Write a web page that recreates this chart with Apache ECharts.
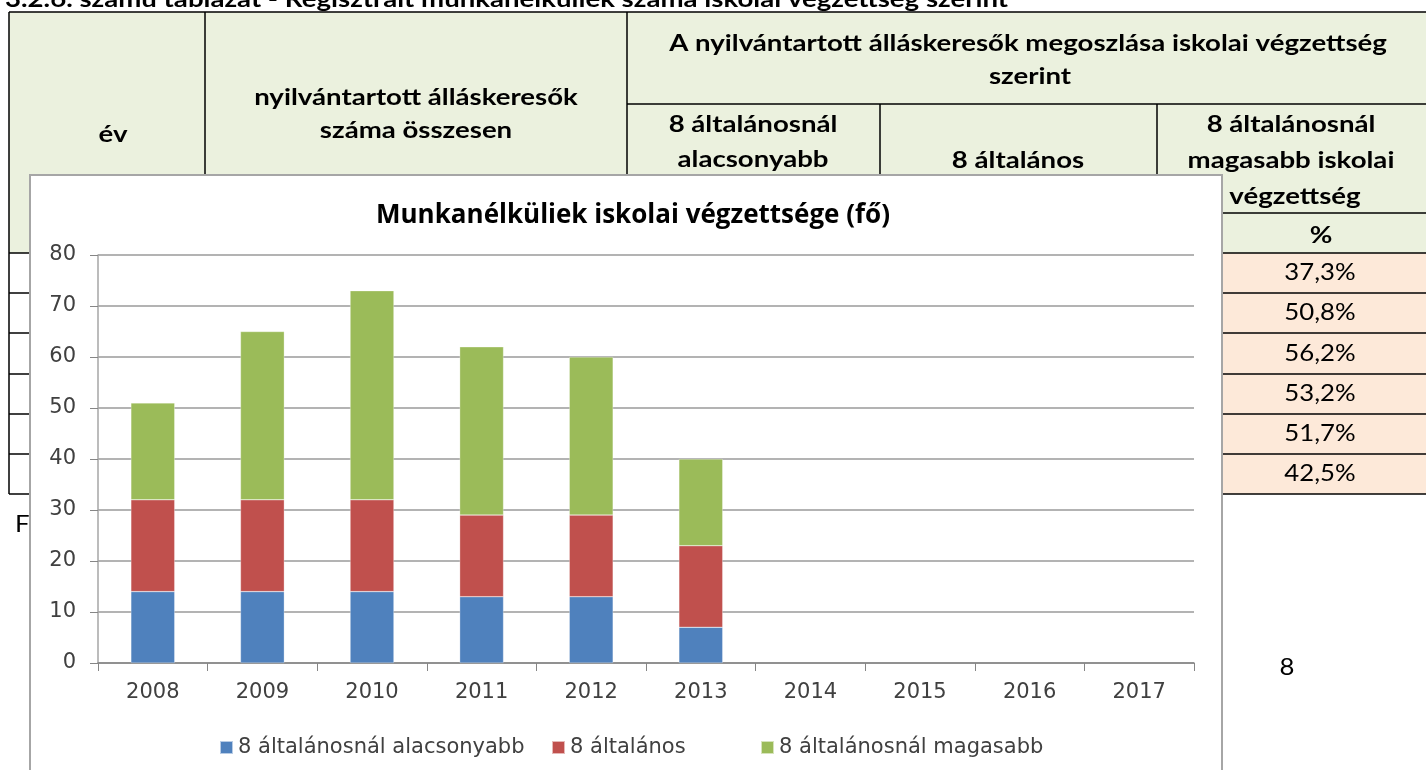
<!DOCTYPE html>
<html>
<head>
<meta charset="utf-8">
<script src="https://cdn.jsdelivr.net/npm/echarts@6/dist/echarts.min.js"></script>
<style>
  html, body { margin: 0; padding: 0; background: #fff; }
  #chart { width: 1426px; height: 770px; }
</style>
</head>
<body>
<div id="chart"></div>
<script>
// adatok
const years = ['2008', '2009', '2010', '2011', '2012', '2013', '2014', '2015', '2016', '2017'];
const alacsonyabb = [14, 14, 14, 13, 13, 7];
const altalanos = [18, 18, 18, 16, 16, 16];
const magasabb = [19, 33, 41, 33, 31, 17];
const seriesNames = ['8 általánosnál alacsonyabb', '8 általános', '8 általánosnál magasabb'];
const seriesColors = ['#4F81BD', '#C0504D', '#9BBB59'];
const pctValues = ['37,3%', '50,8%', '56,2%', '53,2%', '51,7%', '42,5%'];
const yTicks = [0, 10, 20, 30, 40, 50, 60, 70, 80];

const TFONT = 'Lato, "Open Sans", sans-serif';
const CFONT = '"DejaVu Sans", Verdana, sans-serif';

// háttér táblázat
const hdrBg = '#EBF1DE';
const pctBg = '#FDE9D9';
const rowLines = [253, 293, 333, 374, 414, 454, 494];

function line(x1, y1, x2, y2, w) {
    return { type: 'line', z: -10, silent: true,
        shape: { x1: x1, y1: y1, x2: x2, y2: y2 },
        style: { stroke: '#000', lineWidth: w || 1.5 } };
}
function txt(x, y, s, bold, align) {
    return { type: 'text', z: -9, silent: true, x: x, y: y,
        scaleX: bold ? 1.2 : 1.12,
        style: { text: s, fill: '#000', font: (bold ? 'bold ' : '') + '23px ' + TFONT,
            textAlign: align || 'center', textVerticalAlign: 'middle' } };
}

let table = [];
table.push({ type: 'rect', z: -11, silent: true, shape: { x: 9, y: 12, width: 1430, height: 241 }, style: { fill: hdrBg } });
table.push({ type: 'rect', z: -11, silent: true, shape: { x: 1222, y: 253, width: 210, height: 241 }, style: { fill: pctBg } });
table.push(line(9, 12, 1430, 12));
table.push(line(627, 104, 1430, 104));
table.push(line(1157, 213, 1430, 213));
rowLines.forEach(y => table.push(line(9, y, 1430, y)));
table.push(line(9, 12, 9, 494));
table.push(line(205, 12, 205, 253));
table.push(line(627, 12, 627, 253));
table.push(line(880, 104, 880, 213));
table.push(line(1157, 104, 1157, 213));
table.push(line(1222, 213, 1222, 494));

table.push(txt(5, 0, '3.2.6. számú táblázat - Regisztrált munkanélküliek száma iskolai végzettség szerint', true, 'left'));
table.push(txt(113, 135, 'év', true));
table.push(txt(416, 98, 'nyilvántartott álláskeresők', true));
table.push(txt(416, 131, 'száma összesen', true));
table.push(txt(1028, 44, 'A nyilvántartott álláskeresők megoszlása iskolai végzettség', true));
table.push(txt(1030, 77, 'szerint', true));
table.push(txt(753, 125, '8 általánosnál', true));
table.push(txt(753, 160, 'alacsonyabb', true));
table.push(txt(1018, 161, '8 általános', true));
table.push(txt(1291, 125, '8 általánosnál', true));
table.push(txt(1291, 161, 'magasabb iskolai', true));
table.push(txt(1295, 197, 'végzettség', true));
table.push(txt(1321, 236, '%', true));
pctValues.forEach((p, i) => table.push(txt(1320, (rowLines[i] + rowLines[i + 1]) / 2, p, false)));
table.push(txt(15, 525, 'Forrás:', false, 'left'));
table.push(txt(1287, 668, '8', false));

// diagram keret
table.push({ type: 'rect', z: -5, silent: true,
    shape: { x: 30, y: 175, width: 1192, height: 620 },
    style: { fill: '#fff', stroke: '#a6a6a6', lineWidth: 2 } });

var myChart = echarts.init(document.getElementById('chart'));

let series = [alacsonyabb, altalanos, magasabb].map((d, i) => ({
    name: seriesNames[i],
    type: 'bar',
    stack: 'total',
    barWidth: '40%',
    itemStyle: { color: seriesColors[i], borderColor: 'rgba(255,255,255,0.6)', borderWidth: 0.5 },
    data: d
}));

// jelmagyarázat elemek külön pozícióval
const legendLeft = [214, 546, 755];
let legends = seriesNames.map((n, i) => ({
    data: [n],
    left: legendLeft[i], top: 732,
    itemWidth: 13, itemHeight: 13,
    icon: 'rect',
    textStyle: { fontSize: 21, color: '#404040', fontFamily: CFONT }
}));

let options = {
    animation: false,
    textStyle: { fontFamily: CFONT },
    title: {
        text: 'Munkanélküliek iskolai végzettsége (fő)',
        left: 628, top: 198, textAlign: 'center',
        textStyle: { fontSize: 26, fontWeight: 'bold', color: '#000', fontFamily: '"Open Sans", sans-serif' }
    },
    graphic: table,
    grid: { left: 98, right: 232, top: 255, bottom: 107 },
    legend: legends,
    xAxis: {
        type: 'category',
        data: years,
        axisLine: { lineStyle: { color: '#868686', width: 1.5 } },
        axisTick: { show: true, alignWithLabel: false, length: 8, lineStyle: { color: '#868686' } },
        axisLabel: { fontSize: 21, color: '#404040', margin: 19 }
    },
    yAxis: {
        type: 'value',
        min: yTicks[0], max: yTicks[yTicks.length - 1], interval: 10,
        axisLine: { show: true, lineStyle: { color: '#a6a6a6', width: 1.5 } },
        axisTick: { show: true, length: 8, lineStyle: { color: '#868686' } },
        axisLabel: { fontSize: 21, color: '#404040', margin: 22 },
        splitLine: { lineStyle: { color: '#9a9a9a', width: 1.5 } }
    },
    series: series
};
myChart.setOption(options, true);
</script>
</body>
</html>
